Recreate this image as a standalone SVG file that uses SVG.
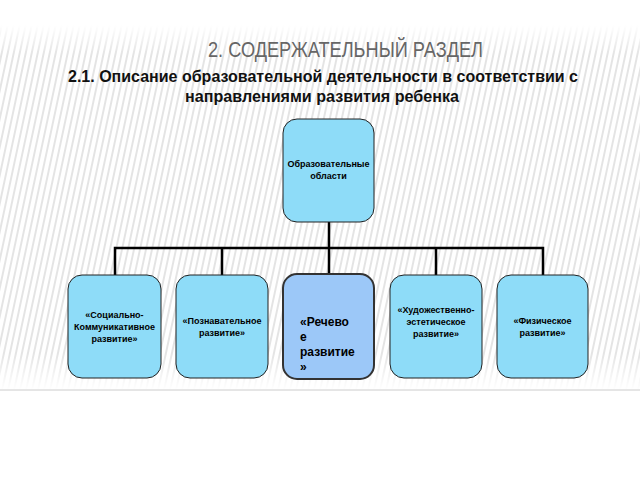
<svg xmlns="http://www.w3.org/2000/svg" width="640" height="480" viewBox="0 0 640 480">
<defs>
<pattern id="st" width="6" height="10" patternUnits="userSpaceOnUse" patternTransform="skewX(-12)">
<rect width="6" height="10" fill="#ffffff"/><rect width="2" height="10" fill="#e4e4e4"/>
</pattern>
<linearGradient id="fade" x1="0" y1="0" x2="0" y2="1">
<stop offset="0" stop-color="#fff" stop-opacity="1"/><stop offset="0.08" stop-color="#fff" stop-opacity="0"/>
<stop offset="0.9" stop-color="#fff" stop-opacity="0"/><stop offset="1" stop-color="#fff" stop-opacity="1"/>
</linearGradient>
<style>
.b{fill:#8edcf8;stroke:#222;stroke-width:1}
.t{font-family:"Liberation Sans",Arial,sans-serif;font-weight:bold;font-size:9px;text-anchor:middle;fill:#000}
.c{stroke:#000;stroke-width:2.5;fill:none}
.s{font-family:"Liberation Sans",Arial,sans-serif;font-weight:bold;font-size:16px;fill:#111}
</style>
</defs>
<rect width="640" height="480" fill="#fff"/>
<rect x="0" y="25" width="640" height="365" fill="url(#st)"/>
<rect x="0" y="25" width="640" height="365" fill="url(#fade)"/>
<line x1="0" y1="390" x2="640" y2="390" stroke="#ccc" stroke-width="1"/>
<text x="208" y="57" textLength="275" lengthAdjust="spacingAndGlyphs" font-family="'Liberation Sans',Arial,sans-serif" font-size="22" fill="#666">2. СОДЕРЖАТЕЛЬНЫЙ РАЗДЕЛ</text>
<text class="s" x="68" y="82" textLength="510" lengthAdjust="spacingAndGlyphs">2.1. Описание образовательной деятельности в соответствии с</text>
<text class="s" x="185" y="102" textLength="274" lengthAdjust="spacingAndGlyphs">направлениями развития ребенка</text>
<g id="connectors">
<path class="c" d="M329 222V275M115 275V248H543V275M222 248V275M436 248V275"/>
</g>
<g id="top"><rect class="b" x="283" y="119" width="91" height="103" rx="14"/>
<text class="t" x="328.5" y="167">Образовательные</text><text class="t" x="328.5" y="179">области</text></g>
<g id="n1"><rect class="b" x="68" y="275" width="93" height="103" rx="14"/>
<text class="t" x="114.5" y="318">«Социально-</text><text class="t" x="114.5" y="330">Коммуникативное</text><text class="t" x="114.5" y="342">развитие»</text></g>
<g id="n2"><rect class="b" x="176" y="275" width="92" height="103" rx="14"/>
<text class="t" x="222" y="324">«Познавательное</text><text class="t" x="222" y="336">развитие»</text></g>
<g id="n3"><rect x="283" y="274" width="91" height="105" rx="14" fill="#9cc8f8" stroke="#333" stroke-width="2"/>
<g font-family="'Liberation Sans',Arial,sans-serif" font-weight="bold" font-size="12"><text x="300" y="326">«Речево</text><text x="300" y="341">е</text><text x="300" y="356">развитие</text><text x="300" y="371">»</text></g></g>
<g id="n4"><rect class="b" x="390" y="275" width="92" height="103" rx="14"/>
<text class="t" x="436" y="313">«Художественно-</text><text class="t" x="436" y="325">эстетическое</text><text class="t" x="436" y="337">развитие»</text></g>
<g id="n5"><rect class="b" x="497" y="275" width="91" height="103" rx="14"/>
<text class="t" x="542.5" y="324">«Физическое</text><text class="t" x="542.5" y="336">развитие»</text></g>
</svg>
